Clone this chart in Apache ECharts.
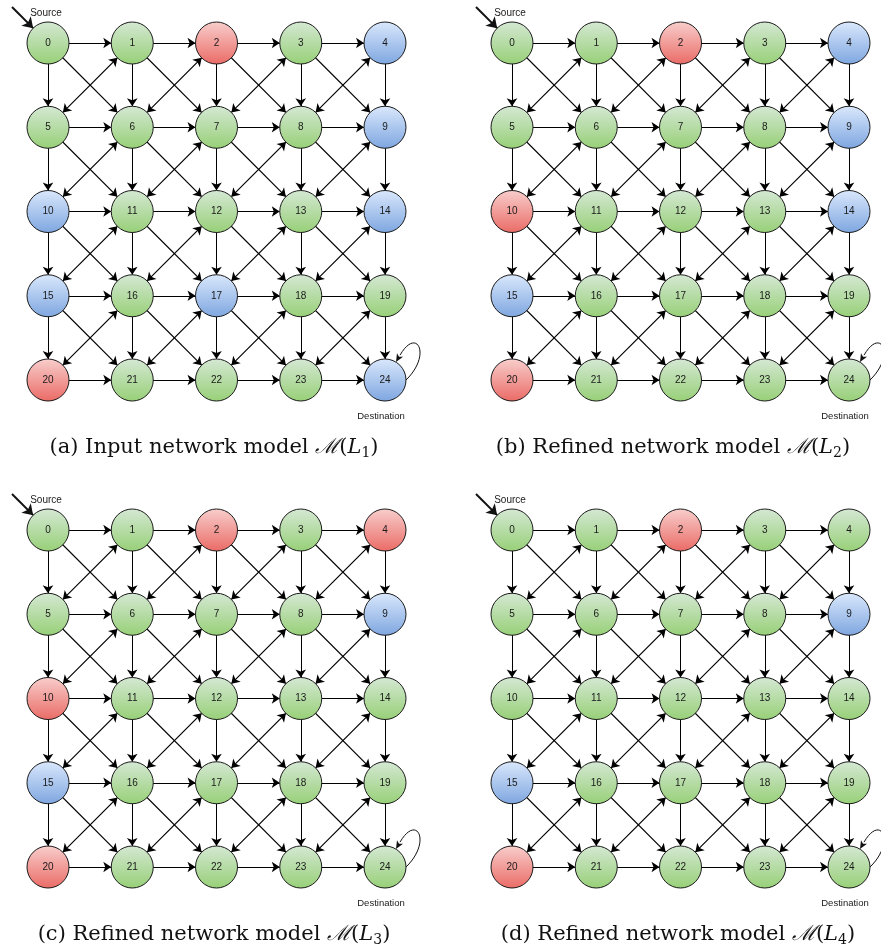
<!DOCTYPE html>
<html>
<head>
<meta charset="UTF-8">
<title>Network models</title>
<style>
  html, body { margin: 0; padding: 0; background: #fff; }
  #main { width: 881px; height: 949px; }
</style>
<script src="https://cdn.jsdelivr.net/npm/echarts@6/dist/echarts.min.js"></script>
</head>
<body>
<div id="main"></div>
<script>
// node grid (5 x 5), node id = row*5 + col
var nodeCols = [0, 1, 2, 3, 4];
var nodeRows = [0, 1, 2, 3, 4];

// node colours per panel: g = green, r = red, b = blue
var coloursA = ['g','g','r','g','b', 'g','g','g','g','b', 'b','g','g','g','b', 'b','g','b','g','g', 'r','g','g','g','b'];
var coloursB = ['g','g','r','g','b', 'g','g','g','g','b', 'r','g','g','g','b', 'b','g','g','g','g', 'r','g','g','g','g'];
var coloursC = ['g','g','r','g','r', 'g','g','g','g','b', 'r','g','g','g','g', 'b','g','g','g','g', 'r','g','g','g','g'];
var coloursD = ['g','g','r','g','g', 'g','g','g','g','b', 'g','g','g','g','g', 'b','g','g','g','g', 'r','g','g','g','g'];

// edges
var rightEdges = [[0,1],[1,2],[2,3],[3,4],[5,6],[6,7],[7,8],[8,9],[10,11],[11,12],[12,13],[13,14],
                  [15,16],[16,17],[17,18],[18,19],[20,21],[21,22],[22,23],[23,24]];
var downEdges = [[0,5],[1,6],[2,7],[3,8],[4,9],[5,10],[6,11],[7,12],[8,13],[9,14],
                 [10,15],[11,16],[12,17],[13,18],[14,19],[15,20],[16,21],[17,22],[18,23],[19,24]];
var diagEdges = [[0,6],[1,7],[2,8],[3,9],[5,11],[6,12],[7,13],[8,14],
                 [10,16],[11,17],[12,18],[13,19],[15,21],[16,22],[17,23],[18,24]];
var twoWayEdges = [[1,5],[2,6],[3,7],[4,8],[6,10],[7,11],[8,12],[9,13],
                   [11,15],[12,16],[13,17],[14,18],[16,20],[17,21],[18,22],[19,23]];
var selfLoops = [[4, 4]];   // node 24 (col, row)

var captions = [
    ['(a) Input network model ', '1'],
    ['(b) Refined network model ', '2'],
    ['(c) Refined network model ', '3'],
    ['(d) Refined network model ', '4']
];
var panelColours = [coloursA, coloursB, coloursC, coloursD];

var fills = {
    g: ['#d5e8d4', '#97d077'],
    r: ['#f8cecc', '#ea6b66'],
    b: ['#dae8fc', '#7ea6e0']
};

var grids = [
    {left: 48, top: 43, width: 337, height: 337},
    {left: 512, top: 43, width: 337, height: 337},
    {left: 48, top: 530, width: 337, height: 337},
    {left: 512, top: 530, width: 337, height: 337}
];

var step = 337 / 4;

function makeNodes(colours) {
    var nodes = [];
    nodeRows.forEach(function (r) {
        nodeCols.forEach(function (c) {
            var id = r * 5 + c;
            var f = fills[colours[id]];
            nodes.push({
                name: String(id),
                value: [c, r],
                symbolSize: 42,
                itemStyle: {
                    color: new echarts.graphic.LinearGradient(0, 0, 0, 1, [
                        {offset: 0, color: f[0]}, {offset: 1, color: f[1]}
                    ]),
                    borderColor: '#1a1a1a',
                    borderWidth: 1
                },
                label: {show: true, formatter: String(id)}
            });
        });
    });
    var hidden = {color: 'rgba(0,0,0,0)', borderWidth: 0};
    // start point of the source arrow
    nodes.push({name: 'srcStart', value: [-36 / step, -36 / step], symbolSize: 1, itemStyle: hidden, label: {show: false}});
    // annotation labels
    nodes.push({name: 'srcLabel', value: [-2 / step, -30 / step], symbolSize: 1, itemStyle: hidden,
        label: {show: true, formatter: 'Source', fontSize: 10}});
    nodes.push({name: 'dstLabel', value: [4 - 4 / step, 4 + 36 / step], symbolSize: 1, itemStyle: hidden,
        label: {show: true, formatter: 'Destination', fontSize: 9.5}});
    return nodes;
}

function makeLinks() {
    var links = [];
    rightEdges.concat(downEdges).forEach(function (e) {
        links.push({source: String(e[0]), target: String(e[1]), symbol: ['none', 'arrow']});
    });
    diagEdges.forEach(function (e) {
        links.push({source: String(e[0]), target: String(e[1]), symbol: ['none', 'arrow'],
            lineStyle: {width: 1.2}});
    });
    twoWayEdges.forEach(function (e) {
        links.push({source: String(e[0]), target: String(e[1]), symbol: ['arrow', 'arrow'],
            lineStyle: {width: 1.2}});
    });
    links.push({source: 'srcStart', target: '0', symbol: ['none', 'arrow'], symbolSize: 10,
        lineStyle: {width: 2, color: '#111'}});
    return links;
}

function renderLoop(params, api) {
    var p = api.coord([api.value(0), api.value(1)]);
    var x = p[0], y = p[1];
    var p0 = [x + 21, y], c1 = [x + 47, y - 25], c2 = [x + 32, y - 54], p3 = [x + 11, y - 18];
    var dx = p3[0] - c2[0], dy = p3[1] - c2[1];
    var len = Math.sqrt(dx * dx + dy * dy);
    dx /= len; dy /= len;
    var bx = p3[0] - 8 * dx, by = p3[1] - 8 * dy;
    var nx = -dy * 3.5, ny = dx * 3.5;
    return {
        type: 'group',
        children: [
            {type: 'bezierCurve', shape: {x1: p0[0], y1: p0[1], cpx1: c1[0], cpy1: c1[1],
                cpx2: c2[0], cpy2: c2[1], x2: bx, y2: by},
                style: {stroke: '#111', lineWidth: 1, fill: null}},
            {type: 'polygon', shape: {points: [p3, [bx + nx, by + ny], [p3[0] - 6 * dx, p3[1] - 6 * dy], [bx - nx, by - ny]]},
                style: {fill: '#111'}}
        ]
    };
}

var xAxes = [], yAxes = [], series = [], graphics = [];
grids.forEach(function (g, i) {
    xAxes.push({gridIndex: i, type: 'value', min: 0, max: 4, show: false});
    yAxes.push({gridIndex: i, type: 'value', min: 0, max: 4, inverse: true, show: false});
    series.push({
        type: 'graph',
        coordinateSystem: 'cartesian2d',
        xAxisIndex: i,
        yAxisIndex: i,
        layout: 'none',
        symbol: 'circle',
        edgeSymbol: ['none', 'arrow'],
        edgeSymbolSize: 8,
        label: {position: 'inside', color: '#1a1a1a', fontSize: 10, fontFamily: 'Liberation Sans'},
        lineStyle: {color: '#000', width: 1, opacity: 1, curveness: 0},
        emphasis: {disabled: true},
        animation: false,
        data: makeNodes(panelColours[i]),
        links: makeLinks()
    });
    series.push({
        type: 'custom',
        coordinateSystem: 'cartesian2d',
        xAxisIndex: i,
        yAxisIndex: i,
        clip: false,
        silent: true,
        animation: false,
        renderItem: renderLoop,
        data: selfLoops
    });
    var cap = captions[i];
    graphics.push({
        type: 'text',
        x: [214, 673, 214, 678][i],
        y: [448, 448, 935, 935][i],
        style: {
            text: cap[0] + '{cal|\u2133}({it|L}{sub|' + cap[1] + '})',
            fontFamily: 'DejaVu Serif',
            fontSize: 21,
            fill: '#111',
            align: 'center',
            verticalAlign: 'middle',
            rich: {
                cal: {fontFamily: 'DejaVu Serif', fontStyle: 'italic', fontSize: 21, fill: '#111'},
                it: {fontFamily: 'DejaVu Serif', fontStyle: 'italic', fontSize: 21, fill: '#111'},
                sub: {fontFamily: 'DejaVu Serif', fontSize: 14, fill: '#111', padding: [11, 0, 0, 0]}
            }
        }
    });
});

var myChart = echarts.init(document.getElementById('main'));
myChart.setOption({
    backgroundColor: '#ffffff',
    animation: false,
    textStyle: {fontFamily: 'Liberation Sans'},
    grid: grids,
    xAxis: xAxes,
    yAxis: yAxes,
    series: series,
    graphic: graphics
});
</script>
</body>
</html>
